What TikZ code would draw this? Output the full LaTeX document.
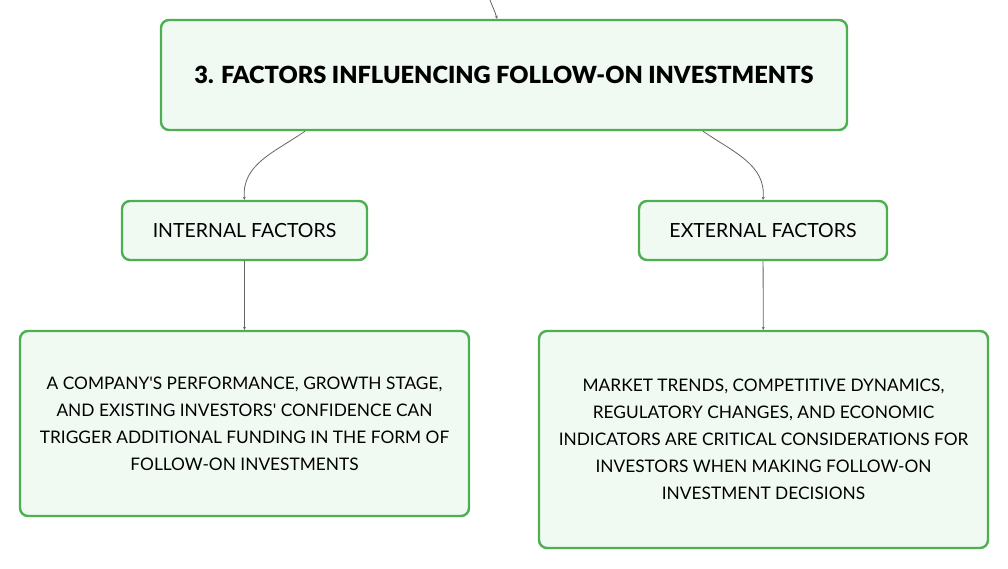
\documentclass[tikz,border=0pt]{standalone}
\usepackage{fontspec}
\setmainfont{Lato}
\newfontfamily\titlefont{Lato Black}
\usetikzlibrary{positioning,arrows.meta}
\definecolor{boxgreen}{RGB}{76,175,80}
\definecolor{boxfill}{RGB}{241,250,242}
\definecolor{linkgray}{RGB}{100,100,100}

\begin{document}
\begin{tikzpicture}[x=1pt,y=-1pt,
  box/.style={rectangle,draw=boxgreen,fill=boxfill,line width=2.4pt,rounded corners=8pt,align=center,inner sep=0pt},
  link/.style={draw=linkgray,line width=0.8pt,-{Stealth[length=3pt,width=3pt]}}]
\useasboundingbox (0,0) rectangle (1008,569);

\node[box,minimum width=686pt,minimum height=110pt,font=\fontsize{23.6}{28}\titlefont] (main) at (504,75) {3. FACTORS INFLUENCING FOLLOW-ON INVESTMENTS};

\node[box,minimum width=245pt,minimum height=59pt,font=\fontsize{19.5}{27}\selectfont] (internal) at (244.5,230.5) {INTERNAL FACTORS};
\node[box,minimum width=248pt,minimum height=59pt,font=\fontsize{19.5}{27}\selectfont] (external) at (763,230.5) {EXTERNAL FACTORS};

\node[box,minimum width=449pt,minimum height=185pt,font=\fontsize{17.3}{27}\selectfont] (intdesc) at (244.5,423.5) {A COMPANY\textquotesingle S PERFORMANCE, GROWTH STAGE,\\AND EXISTING INVESTORS\textquotesingle{} CONFIDENCE CAN\\TRIGGER ADDITIONAL FUNDING IN THE FORM OF\\FOLLOW-ON INVESTMENTS};
\node[box,minimum width=449pt,minimum height=217pt,font=\fontsize{17.3}{27}\selectfont] (extdesc) at (763.5,439.5) {MARKET TRENDS, COMPETITIVE DYNAMICS,\\REGULATORY CHANGES, AND ECONOMIC\\INDICATORS ARE CRITICAL CONSIDERATIONS FOR\\INVESTORS WHEN MAKING FOLLOW-ON\\INVESTMENT DECISIONS};

\coordinate (parent) at (490,0);

\draw[link] (parent) to[out=-70,in=105] ([xshift=-7pt]main.north);
\draw[link] ([xshift=-199pt]main.south) to[out=215,in=95] (internal.north);
\draw[link] ([xshift=199pt]main.south) to[out=-35,in=85] (external.north);
\draw[link] (internal) -- (intdesc);
\draw[link] (external) -- (extdesc);

\end{tikzpicture}
\end{document}
